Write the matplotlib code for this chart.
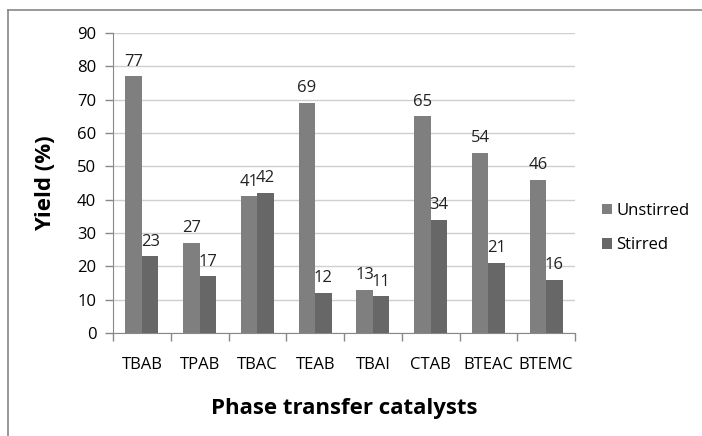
import numpy as np
import matplotlib.pyplot as plt
from matplotlib.lines import Line2D

catalysts = ["TBAB", "TPAB", "TBAC", "TEAB", "TBAI", "CTAB", "BTEAC", "BTEMC"]
unstirred = [77, 27, 41, 69, 13, 65, 54, 46]
stirred = [23, 17, 42, 12, 11, 34, 21, 16]

C_UN = "#7f7f7f"
C_ST = "#676767"
FONT = "Open Sans"

W, H = 702, 436
fig = plt.figure(figsize=(W / 100, H / 100), dpi=100)
# plot area in pixels: x 113..575, y 33..333
ax = fig.add_axes([113 / W, 1 - 333 / H, (575 - 113) / W, (333 - 33) / H])

x = np.arange(len(catalysts))
bw = 1 / 3.5
ax.bar(x - bw / 2, unstirred, bw, color=C_UN, label="Unstirred", zorder=3)
ax.bar(x + bw / 2, stirred, bw, color=C_ST, label="Stirred", zorder=3)

for xi, v in zip(x, unstirred):
    ax.text(xi - bw / 2, v + 2, str(v), ha="center", va="bottom",
            fontsize=12, family=FONT, color="#222222")
for xi, v in zip(x, stirred):
    ax.text(xi + bw / 2, v + 2, str(v), ha="center", va="bottom",
            fontsize=12, family=FONT, color="#222222")

ax.set_xlim(-0.5, len(catalysts) - 0.5)
ax.set_ylim(0, 90)
ax.set_yticks(range(0, 91, 10))
ax.yaxis.grid(True, color="#cfcfcf", linewidth=1, zorder=0)
ax.axhline(90, color="#a8a8a8", linewidth=1.3, zorder=1)

ax.set_xticks(x)
ax.set_xticklabels(catalysts, family=FONT, fontsize=12)
ax.tick_params(axis="x", length=0, pad=17)
# tick marks at category boundaries
ax.set_xticks(np.arange(-0.5, len(catalysts), 1), minor=True)
ax.tick_params(axis="x", which="minor", length=6, color="#888888", width=1)
ax.tick_params(axis="y", length=6, color="#888888", width=1, pad=6)
for lbl in ax.get_yticklabels():
    lbl.set_family(FONT)
    lbl.set_fontsize(12)

for s in ["top", "right"]:
    ax.spines[s].set_visible(False)
for s in ["left", "bottom"]:
    ax.spines[s].set_color("#888888")

ax.set_ylabel("Yield (%)", fontsize=16, fontweight="bold", family=FONT, labelpad=15)
ax.set_xlabel("Phase transfer catalysts", fontsize=16, fontweight="bold",
              family=FONT, labelpad=18)

ax.legend(loc="center left", bbox_to_anchor=(1.025, 0.35), frameon=False,
          prop={"family": FONT, "size": 12}, handlelength=0.6, handleheight=0.6,
          handletextpad=0.3, labelspacing=1.1)

# outer chart border (left and top)
fig.add_artist(Line2D([8 / W, 8 / W], [0, 1 - 10 / H], color="#888888", lw=1.2))
fig.add_artist(Line2D([8 / W, 1], [1 - 10 / H, 1 - 10 / H], color="#888888", lw=1.2))

fig.savefig("out.png", dpi=100)
